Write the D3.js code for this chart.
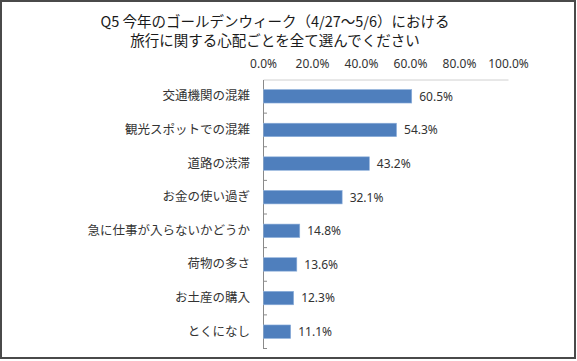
<!DOCTYPE html>
<html>
    <head>
        <meta charset="utf-8" />
        <title>Q5 旅行に関する心配ごと</title>
        <script src="https://d3js.org/d3.v7.min.js"></script>
        <style>
            body { margin: 0; background: #fff; }
            svg { display: block; }
        </style>
    </head>
    <body>
        <svg width="577" height="361"></svg>
        <script>
            const titleLines = [
                'Q5 今年のゴールデンウィーク（4/27～5/6）における',
                '旅行に関する心配ごとを全て選んでください',
            ]
            const categories = [
                '交通機関の混雑',
                '観光スポットでの混雑',
                '道路の渋滞',
                'お金の使い過ぎ',
                '急に仕事が入らないかどうか',
                '荷物の多さ',
                'お土産の購入',
                'とくになし',
            ]
            const values = [60.5, 54.3, 43.2, 32.1, 14.8, 13.6, 12.3, 11.1]
            const xTicks = [0, 20, 40, 60, 80, 100]

            const svg = d3.select('svg')
            const jp = "'Noto Sans CJK JP', 'Noto Sans', sans-serif"
            const num = "'Noto Sans', 'Liberation Sans', sans-serif"

            // outer frame
            svg.append('rect')
                .attr('x', 1).attr('y', 1)
                .attr('width', 574).attr('height', 357)
                .attr('fill', '#fff')
                .attr('stroke', '#4a4a4a')
                .attr('stroke-width', 2)

            // title
            svg.append('g')
                .selectAll('text')
                .data(titleLines)
                .join('text')
                .attr('x', 275)
                .attr('y', (d, i) => 27 + i * 19)
                .attr('text-anchor', 'middle')
                .style('font-family', jp)
                .style('font-size', '14.5px')
                .style('fill', '#1a1a1a')
                .text((d) => d)

            const plotTop = 79.5
            const plotBottom = 348.5
            const x = d3.scaleLinear().domain([0, 100]).range([263, 508])
            const y = d3
                .scaleBand()
                .domain(categories)
                .range([plotTop, plotBottom])
                .paddingInner(0.6)
                .paddingOuter(0.3)

            // value axis on top
            const xAxis = svg
                .append('g')
                .attr('transform', `translate(0,${plotTop})`)
                .call(
                    d3.axisTop(x)
                        .tickValues(xTicks)
                        .tickSize(0)
                        .tickPadding(12)
                        .tickFormat((d) => d.toFixed(1) + '%')
                )
            xAxis.select('.domain').attr('stroke', '#d0d0d0')
            xAxis.selectAll('text')
                .style('font-family', num)
                .style('font-size', '12px')
                .style('fill', '#333')

            // category axis
            const yAxis = svg
                .append('g')
                .attr('transform', `translate(${x(0)},0)`)
                .call(d3.axisLeft(y).tickSize(0).tickPadding(13))
            yAxis.select('.domain').attr('stroke', '#8a8a8a')
            yAxis.selectAll('text')
                .style('font-family', jp)
                .style('font-size', '12.5px')
                .style('fill', '#333')

            // tick marks between categories
            const gap = (y.step() - y.bandwidth()) / 2
            const bounds = categories.map((c) => y(c) - gap).slice(1)
            bounds.push(plotBottom)
            svg.append('g')
                .selectAll('line')
                .data(bounds)
                .join('line')
                .attr('x1', x(0))
                .attr('x2', x(0) + 4)
                .attr('y1', (d) => d)
                .attr('y2', (d) => d)
                .attr('stroke', '#8a8a8a')

            const rows = categories.map((c, i) => ({ c, v: values[i] }))

            // bars
            svg.append('g')
                .selectAll('rect')
                .data(rows)
                .join('rect')
                .attr('x', x(0) + 0.5)
                .attr('y', (d) => y(d.c))
                .attr('width', (d) => x(d.v) - x(0))
                .attr('height', y.bandwidth())
                .attr('fill', '#4f7fbd')
                .attr('stroke', '#8eb0db')
                .attr('stroke-width', 0.6)

            // value labels
            svg.append('g')
                .selectAll('text')
                .data(rows)
                .join('text')
                .attr('x', (d) => x(d.v) + 8)
                .attr('y', (d) => y(d.c) + y.bandwidth() / 2)
                .attr('dy', '0.36em')
                .style('font-family', num)
                .style('font-size', '12px')
                .style('fill', '#333')
                .text((d) => d.v.toFixed(1) + '%')
        </script>
    </body>
</html>
